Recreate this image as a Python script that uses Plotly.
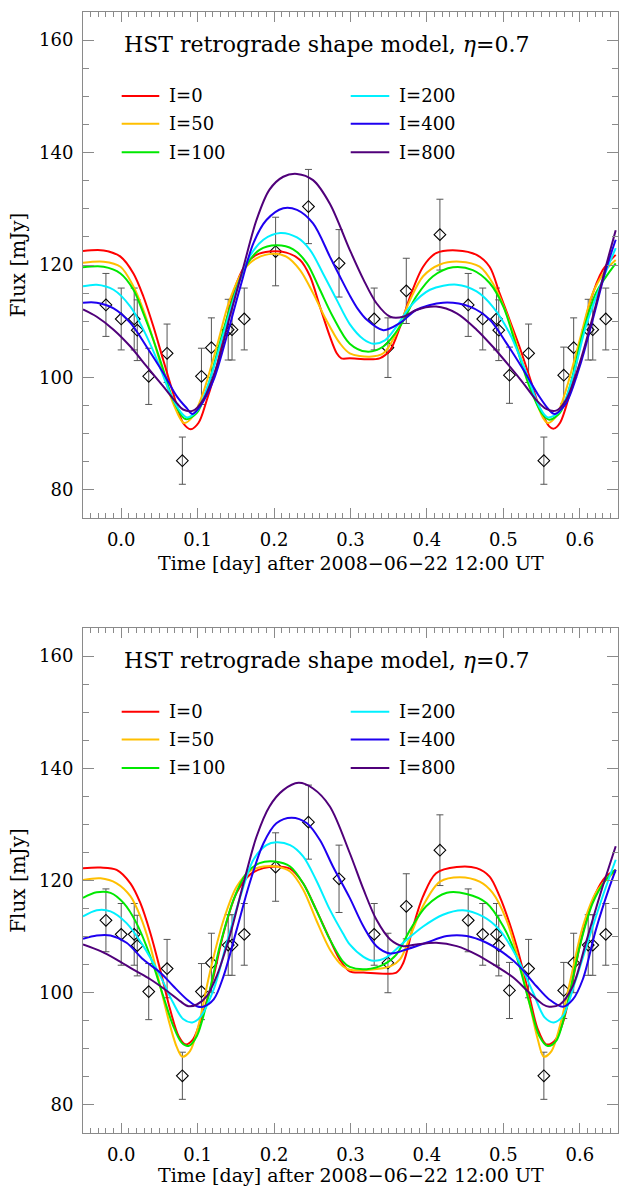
import plotly.graph_objects as go

# ---------------- observed data (same in both panels) ----------------
obs_t = [-0.020, 0.000, 0.017, 0.021, 0.036, 0.060, 0.080, 0.105, 0.118, 0.140, 0.145, 0.161,
         0.202, 0.245, 0.285, 0.331, 0.349, 0.373, 0.417, 0.454, 0.473, 0.491, 0.494, 0.508,
         0.533, 0.553, 0.579, 0.592, 0.611, 0.617, 0.634]
obs_flux = [112.9, 110.4, 110.4, 108.4, 100.2, 104.3, 85.2, 100.2, 105.3, 108.5, 108.5, 110.4,
            122.4, 130.4, 120.3, 110.4, 105.3, 115.4, 125.4, 112.9, 110.4, 110.4, 108.4, 100.4,
            104.3, 85.2, 100.4, 105.3, 108.5, 108.5, 110.4]
obs_err = [5.6, 5.5, 5.5, 5.4, 5.0, 5.2, 4.2, 5.0, 5.3, 5.4, 5.4, 5.5,
           6.1, 6.6, 6.0, 5.5, 5.3, 5.8, 6.3, 5.6, 5.5, 5.5, 5.4, 5.0,
           5.2, 4.2, 5.0, 5.3, 5.4, 5.4, 5.5]

labels = ["I=0", "I=50", "I=100", "I=200", "I=400", "I=800"]
colors = ["#ff0000", "#ffbf00", "#00e800", "#00f0ff", "#1e00f0", "#50007a"]

x_title = "Time [day] after 2008\u221206\u221222 12:00 UT"
y_title = "Flux [mJy]"
panel_title = "HST retrograde shape model, <i>\u03b7</i>=0.7"

# ---------------- top panel models ----------------
top_t_i0 = [-0.05, -0.023, -0.001, 0.016, 0.029, 0.042, 0.055, 0.068, 0.081, 0.091, 0.101, 0.112, 0.125,
            0.138, 0.151, 0.164, 0.177, 0.194, 0.216, 0.234, 0.247, 0.260, 0.273, 0.282, 0.288, 0.299,
            0.338, 0.352, 0.365, 0.378, 0.395, 0.412, 0.439, 0.465, 0.482, 0.495, 0.508, 0.521, 0.534,
            0.547, 0.560, 0.566, 0.574, 0.587, 0.600, 0.613, 0.630, 0.647]
top_f_i0 = [122.5, 122.6, 121.5, 118.5, 114.4, 109.1, 103.1, 97.2, 91.9, 90.8, 91.9, 96.0, 102.0,
            110.3, 116.8, 120.3, 121.8, 122.4, 122.2, 120.9, 118.0, 112.6, 107.3, 104.3, 103.4, 103.4,
            103.4, 104.9, 109.1, 114.4, 119.7, 122.1, 122.6, 121.8, 119.7, 115.0, 110.3, 105.5, 100.2,
            94.8, 91.3, 90.9, 91.9, 97.2, 105.5, 113.2, 119.1, 121.8]

top_t_i50 = [-0.05, -0.023, -0.001, 0.016, 0.029, 0.042, 0.055, 0.068, 0.082, 0.094, 0.107, 0.125, 0.142,
             0.160, 0.177, 0.199, 0.216, 0.234, 0.251, 0.268, 0.286, 0.299, 0.325, 0.343, 0.360, 0.378,
             0.395, 0.417, 0.443, 0.469, 0.486, 0.504, 0.521, 0.539, 0.552, 0.558, 0.569, 0.582, 0.600,
             0.617, 0.634, 0.647]
top_f_i50 = [120.4, 120.6, 119.7, 116.2, 112.0, 106.7, 100.8, 95.4, 91.9, 93.1, 97.2, 105.5, 113.8,
             119.1, 121.2, 122.0, 121.5, 119.1, 115.0, 110.3, 106.1, 104.3, 103.7, 104.3, 107.9, 113.8,
             118.0, 120.1, 120.6, 119.7, 116.8, 111.4, 104.3, 97.2, 92.8, 91.9, 93.1, 97.8, 106.7,
             115.0, 119.1, 120.9]

top_t_i100 = [-0.05, -0.023, -0.001, 0.016, 0.029, 0.042, 0.055, 0.068, 0.084, 0.099, 0.112, 0.129, 0.147,
              0.164, 0.181, 0.203, 0.225, 0.243, 0.260, 0.277, 0.299, 0.321, 0.343, 0.365, 0.386, 0.408,
              0.434, 0.460, 0.482, 0.500, 0.517, 0.534, 0.550, 0.560, 0.574, 0.587, 0.604, 0.621, 0.647]
top_f_i100 = [119.6, 119.7, 118.5, 115.6, 111.4, 106.7, 101.4, 96.0, 92.6, 93.7, 97.8, 106.1, 114.4,
              120.0, 122.7, 123.5, 122.8, 120.3, 115.6, 110.8, 106.0, 104.6, 105.5, 109.1, 114.4, 118.0,
              119.6, 119.1, 116.8, 112.6, 105.5, 98.4, 93.7, 92.5, 93.7, 98.4, 107.9, 115.0, 120.3]

top_t_i200 = [-0.05, -0.032, -0.010, 0.012, 0.029, 0.047, 0.064, 0.077, 0.086, 0.099, 0.116, 0.134, 0.151,
              0.168, 0.186, 0.208, 0.230, 0.247, 0.264, 0.282, 0.299, 0.317, 0.330, 0.345, 0.360, 0.378,
              0.404, 0.439, 0.465, 0.486, 0.508, 0.530, 0.547, 0.558, 0.574, 0.591, 0.608, 0.630, 0.647]
top_f_i200 = [116.2, 116.5, 115.6, 112.6, 108.5, 103.1, 97.2, 94.0, 92.9, 94.0, 99.6, 107.9, 115.6,
              121.5, 124.5, 125.7, 124.9, 122.7, 118.5, 113.8, 109.5, 106.8, 106.0, 106.6, 109.0, 112.6,
              115.6, 116.5, 115.3, 112.6, 107.9, 100.8, 94.8, 92.9, 94.0, 100.2, 109.1, 117.4, 123.0]

top_t_i400 = [-0.05, -0.032, -0.010, 0.012, 0.033, 0.055, 0.073, 0.086, 0.093, 0.103, 0.121, 0.138, 0.156,
              0.173, 0.190, 0.212, 0.230, 0.251, 0.273, 0.286, 0.299, 0.310, 0.321, 0.343, 0.365, 0.386,
              0.421, 0.456, 0.482, 0.504, 0.526, 0.547, 0.560, 0.567, 0.582, 0.600, 0.617, 0.634, 0.647]
top_f_i400 = [113.3, 113.3, 112.3, 109.7, 105.5, 100.8, 96.6, 94.5, 93.5, 94.8, 99.6, 107.3, 116.2,
              123.9, 128.0, 130.1, 129.8, 127.4, 121.5, 118.0, 114.6, 112.1, 110.3, 108.4, 109.7, 112.0,
              113.3, 112.6, 110.3, 106.1, 101.4, 96.6, 94.2, 93.5, 95.4, 102.0, 110.3, 119.1, 124.5]

top_t_i800 = [-0.05, -0.032, -0.010, 0.012, 0.033, 0.055, 0.073, 0.081, 0.094, 0.107, 0.125, 0.142, 0.160,
              0.177, 0.194, 0.212, 0.230, 0.251, 0.273, 0.299, 0.317, 0.334, 0.352, 0.369, 0.386, 0.412,
              0.439, 0.465, 0.486, 0.508, 0.526, 0.543, 0.556, 0.569, 0.582, 0.600, 0.617, 0.634, 0.647]
top_f_i800 = [112.1, 110.8, 108.5, 105.5, 102.0, 98.4, 95.4, 94.3, 94.1, 96.0, 102.0, 110.8, 119.7,
              128.0, 133.4, 135.7, 136.2, 135.1, 130.9, 122.7, 117.4, 113.2, 110.8, 110.8, 112.0, 112.6,
              111.4, 108.5, 105.5, 102.0, 99.0, 96.0, 94.4, 94.1, 96.0, 102.6, 110.8, 119.7, 126.2]

# ---------------- bottom panel models ----------------
bot_t_i0 = [-0.05, -0.027, -0.006, 0.012, 0.025, 0.038, 0.051, 0.064, 0.075, 0.084, 0.094, 0.107, 0.121,
            0.134, 0.151, 0.168, 0.186, 0.203, 0.221, 0.238, 0.255, 0.273, 0.286, 0.299, 0.317, 0.360,
            0.369, 0.382, 0.395, 0.412, 0.439, 0.465, 0.482, 0.495, 0.508, 0.521, 0.534, 0.545, 0.556,
            0.567, 0.578, 0.591, 0.604, 0.621, 0.634, 0.647]
bot_f_i0 = [122.2, 122.3, 121.9, 119.5, 116.0, 110.7, 104.1, 97.0, 92.3, 90.8, 91.7, 96.4, 103.0,
            110.7, 117.8, 121.0, 122.2, 122.5, 122.1, 119.5, 114.8, 109.5, 105.9, 103.8, 103.6, 103.6,
            105.3, 111.8, 117.2, 121.3, 122.4, 122.2, 120.7, 117.2, 112.4, 106.5, 99.4, 93.5, 90.8,
            91.4, 94.7, 102.4, 110.7, 117.8, 120.7, 121.9]

bot_t_i50 = [-0.05, -0.027, -0.006, 0.012, 0.025, 0.038, 0.051, 0.064, 0.073, 0.080, 0.090, 0.101, 0.116,
             0.134, 0.151, 0.168, 0.186, 0.203, 0.221, 0.238, 0.255, 0.273, 0.290, 0.299, 0.325, 0.352,
             0.365, 0.378, 0.395, 0.417, 0.443, 0.469, 0.486, 0.504, 0.521, 0.534, 0.545, 0.553, 0.563,
             0.574, 0.587, 0.604, 0.621, 0.639, 0.647]
bot_f_i50 = [120.1, 120.4, 119.5, 117.2, 113.6, 108.3, 101.2, 94.1, 90.2, 88.6, 89.6, 94.1, 103.6,
             113.0, 118.9, 121.6, 122.5, 122.5, 121.6, 118.4, 113.0, 107.7, 104.7, 104.1, 104.1, 104.7,
             106.0, 110.0, 115.5, 119.8, 120.6, 119.8, 117.8, 113.0, 105.3, 98.2, 91.7, 88.6, 89.6,
             94.1, 101.8, 111.8, 117.8, 120.7, 121.6]

bot_t_i100 = [-0.05, -0.032, -0.014, 0.003, 0.020, 0.038, 0.055, 0.068, 0.079, 0.088, 0.099, 0.112, 0.129,
              0.147, 0.164, 0.181, 0.201, 0.221, 0.238, 0.255, 0.273, 0.290, 0.299, 0.321, 0.343, 0.360,
              0.378, 0.399, 0.426, 0.452, 0.478, 0.500, 0.517, 0.534, 0.547, 0.558, 0.569, 0.582, 0.600,
              0.617, 0.634, 0.647]
bot_f_i100 = [116.9, 117.9, 117.8, 116.0, 112.4, 106.5, 99.4, 94.1, 91.1, 90.5, 92.3, 98.2, 108.3,
              116.6, 121.3, 123.1, 123.4, 122.5, 119.5, 114.8, 109.5, 105.6, 104.6, 104.2, 105.0, 106.8,
              111.2, 115.4, 117.8, 117.6, 116.0, 111.8, 106.5, 98.2, 92.3, 90.5, 91.4, 97.0, 108.3,
              116.0, 120.1, 121.9]

bot_t_i200 = [-0.05, -0.032, -0.014, 0.007, 0.029, 0.051, 0.068, 0.081, 0.093, 0.103, 0.121, 0.138, 0.156,
              0.173, 0.190, 0.203, 0.221, 0.238, 0.255, 0.273, 0.290, 0.299, 0.317, 0.330, 0.347, 0.369,
              0.395, 0.421, 0.447, 0.473, 0.495, 0.517, 0.539, 0.554, 0.566, 0.578, 0.595, 0.613, 0.630,
              0.647]
bot_f_i200 = [113.6, 114.7, 114.5, 112.4, 108.3, 103.0, 98.2, 95.3, 94.7, 95.6, 100.6, 108.9, 117.2,
              123.7, 126.3, 126.8, 126.3, 124.3, 120.1, 114.8, 110.6, 108.6, 106.4, 105.7, 106.3, 108.9,
              111.8, 113.9, 114.7, 113.6, 111.2, 106.5, 100.0, 95.6, 94.7, 95.9, 102.4, 110.1, 117.2,
              123.7]

bot_t_i400 = [-0.05, -0.032, -0.014, 0.007, 0.029, 0.051, 0.068, 0.086, 0.099, 0.107, 0.121, 0.134, 0.151,
              0.168, 0.186, 0.203, 0.223, 0.243, 0.260, 0.277, 0.299, 0.317, 0.334, 0.352, 0.373, 0.399,
              0.426, 0.452, 0.478, 0.500, 0.521, 0.543, 0.560, 0.578, 0.591, 0.604, 0.621, 0.639, 0.647]
bot_f_i400 = [109.6, 110.2, 110.2, 108.9, 105.9, 103.6, 101.2, 98.8, 97.6, 97.5, 98.8, 103.0, 111.2,
              119.5, 126.6, 130.2, 131.2, 130.2, 127.2, 122.5, 116.9, 111.8, 108.3, 107.0, 107.7, 108.9,
              110.1, 110.1, 108.9, 107.1, 104.7, 101.2, 98.8, 97.5, 98.8, 102.4, 111.2, 118.9, 121.9]

bot_t_i800 = [-0.05, -0.027, -0.006, 0.016, 0.038, 0.060, 0.077, 0.088, 0.099, 0.112, 0.125, 0.142, 0.160,
              0.177, 0.194, 0.212, 0.232, 0.251, 0.273, 0.299, 0.317, 0.334, 0.352, 0.369, 0.386, 0.412,
              0.439, 0.465, 0.491, 0.513, 0.534, 0.552, 0.560, 0.574, 0.591, 0.608, 0.626, 0.647]
bot_f_i800 = [108.6, 107.4, 105.9, 104.1, 102.4, 100.3, 98.5, 97.6, 97.9, 99.4, 103.0, 110.1, 119.5,
              127.8, 133.2, 136.1, 137.4, 136.4, 133.2, 124.9, 118.4, 113.0, 109.5, 108.3, 108.6, 108.9,
              108.3, 106.8, 104.7, 102.7, 100.0, 97.9, 97.5, 97.9, 101.2, 108.9, 117.2, 126.1]

top_models = [(top_t_i0, top_f_i0), (top_t_i50, top_f_i50), (top_t_i100, top_f_i100),
              (top_t_i200, top_f_i200), (top_t_i400, top_f_i400), (top_t_i800, top_f_i800)]
bot_models = [(bot_t_i0, bot_f_i0), (bot_t_i50, bot_f_i50), (bot_t_i100, bot_f_i100),
              (bot_t_i200, bot_f_i200), (bot_t_i400, bot_f_i400), (bot_t_i800, bot_f_i800)]

FONT = "DejaVu Serif"
AXC = "#8a8a8a"

fig = go.Figure()

for xa, ya, models in (("x", "y", top_models), ("x2", "y2", bot_models)):
    fig.add_trace(go.Scatter(
        x=obs_t, y=obs_flux, mode="markers", xaxis=xa, yaxis=ya, showlegend=False,
        marker=dict(symbol="diamond-open", size=9, color="black", line=dict(width=1.1, color="black")),
        error_y=dict(type="data", array=obs_err, color="#555555", thickness=1, width=3.5)))
    for (tt, ff), col, lab in zip(models, colors, labels):
        fig.add_trace(go.Scatter(
            x=tt, y=ff, mode="lines", name=lab, xaxis=xa, yaxis=ya, showlegend=False,
            line=dict(color=col, width=2, shape="spline", smoothing=0.9)))


def xaxis_cfg(anchor):
    return dict(
        anchor=anchor, domain=[0, 1], range=[-0.05, 0.65], tick0=0, dtick=0.1, tickformat=".1f",
        ticks="inside", ticklen=10, tickwidth=1, tickcolor=AXC,
        minor=dict(dtick=0.01, ticks="inside", ticklen=5, tickwidth=1, tickcolor=AXC, showgrid=False),
        showline=True, linecolor=AXC, linewidth=1, mirror="allticks", showgrid=False, zeroline=False,
        tickfont=dict(family=FONT, size=18, color="black"), ticklabelstandoff=5)


def yaxis_cfg(anchor, dom):
    return dict(
        anchor=anchor, domain=dom, range=[75, 165], tick0=0, dtick=20,
        ticks="inside", ticklen=11, tickwidth=1, tickcolor=AXC,
        minor=dict(dtick=5, ticks="inside", ticklen=6, tickwidth=1, tickcolor=AXC, showgrid=False),
        showline=True, linecolor=AXC, linewidth=1, mirror="allticks", showgrid=False, zeroline=False,
        tickfont=dict(family=FONT, size=18, color="black"), ticklabelstandoff=5,
        title=dict(text=y_title, font=dict(family=FONT, size=20, color="black"), standoff=8))


fig.update_layout(
    width=619, height=1189, margin=dict(l=83, r=1, t=12, b=56),
    plot_bgcolor="white", paper_bgcolor="white", showlegend=False,
    xaxis=xaxis_cfg("y"), yaxis=yaxis_cfg("x", [0.5486, 1.0]),
    xaxis2=xaxis_cfg("y2"), yaxis2=yaxis_cfg("x2", [0.0, 0.4505]),
)

# x-axis titles (placed as annotations below each panel)
for yref, ypos in (("y domain", -0.089), ("y2 domain", -0.083)):
    fig.add_annotation(xref="x domain", yref=yref, x=0.5, y=ypos, xanchor="center", yanchor="middle",
                       showarrow=False, text=x_title, font=dict(family=FONT, size=19, color="black"))

# in-panel title and manual two-column legend
leg_line_x = [(0.0723, 0.1426), (0.5004, 0.5725)]
leg_text_x = [0.1564, 0.5864]
leg_rows = [0.834, 0.779, 0.723]
for xa, ya in (("x", "y"), ("x2", "y2")):
    fig.add_annotation(xref=f"{xa} domain", yref=f"{ya} domain", x=0.0729, y=0.936,
                       xanchor="left", yanchor="middle", showarrow=False,
                       text=panel_title, font=dict(family=FONT, size=22, color="black"))
    for i, (lab, col) in enumerate(zip(labels, colors)):
        c, r = i // 3, i % 3
        fig.add_shape(type="line", xref=f"{xa} domain", yref=f"{ya} domain",
                      x0=leg_line_x[c][0], x1=leg_line_x[c][1], y0=leg_rows[r], y1=leg_rows[r],
                      line=dict(color=col, width=2))
        fig.add_annotation(xref=f"{xa} domain", yref=f"{ya} domain", x=leg_text_x[c], y=leg_rows[r],
                           xanchor="left", yanchor="middle", showarrow=False, text=lab,
                           font=dict(family=FONT, size=18, color="black"))

fig.write_html("out.html")
